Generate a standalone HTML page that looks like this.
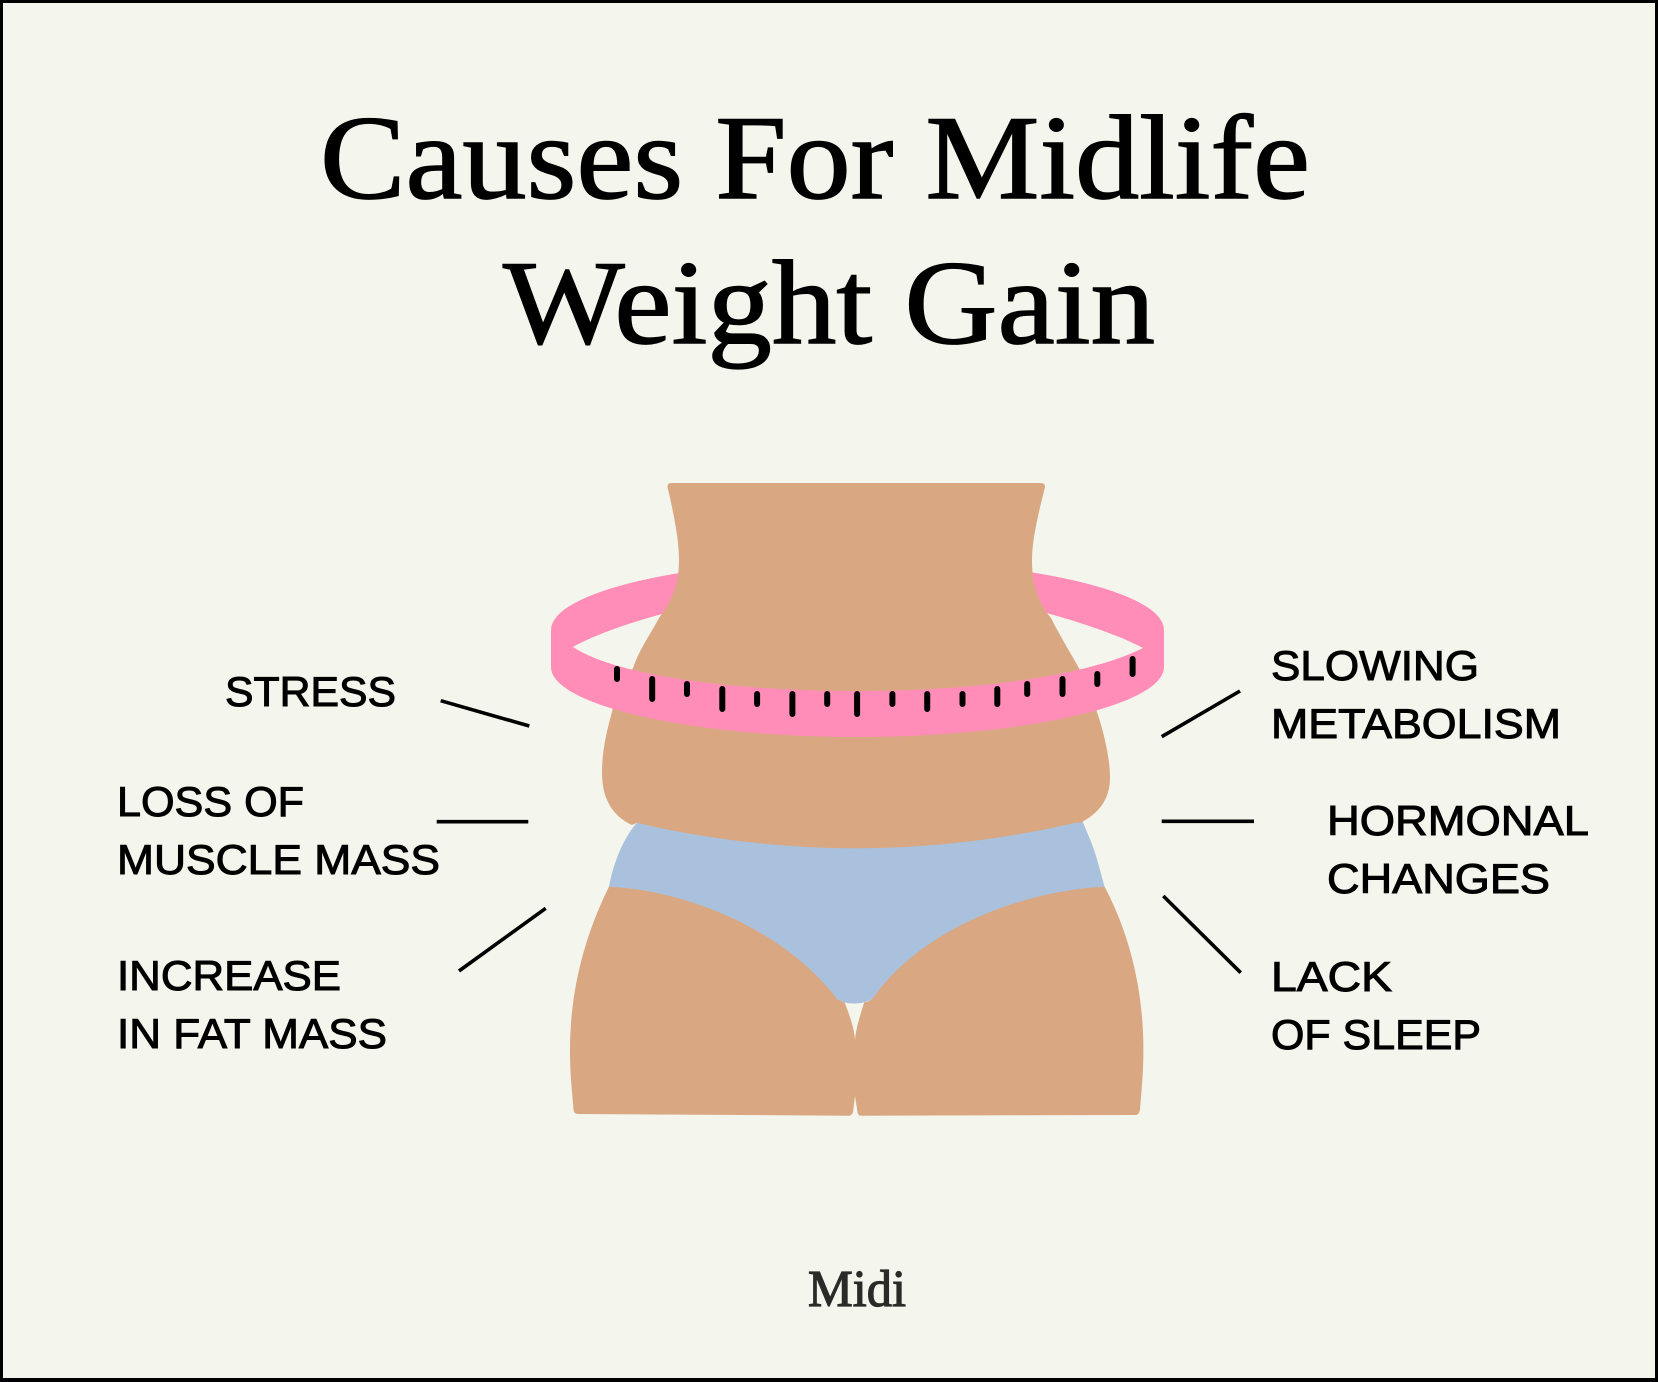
<!DOCTYPE html>
<html><head><meta charset="utf-8"><title>Causes For Midlife Weight Gain</title>
<style>
html,body{margin:0;padding:0;background:#f4f5ec;}
svg{display:block;}
.t{font-family:"Liberation Serif",serif;font-size:120px;fill:#000;stroke:#000;stroke-width:1.4px;}
.l{font-family:"Liberation Sans",sans-serif;font-size:42px;fill:#000;stroke:#000;stroke-width:1px;}
.m{font-family:"Liberation Serif",serif;font-size:52px;fill:#2a2a28;stroke:#2a2a28;stroke-width:1.2px;}
</style></head>
<body>
<svg width="1658" height="1382" viewBox="0 0 1658 1382" xmlns="http://www.w3.org/2000/svg">
<rect x="0" y="0" width="1658" height="1382" fill="#000"/>
<rect x="3" y="3" width="1652" height="1375" fill="#f4f5ec"/>

<text class="t" x="320" y="198" textLength="990" lengthAdjust="spacingAndGlyphs">Causes For Midlife</text>
<text class="t" x="503" y="343" textLength="652" lengthAdjust="spacingAndGlyphs">Weight Gain</text>

<!-- tape back -->
<path fill="#ff8db8" d="M551 630 A306.5 70 0 0 1 1164 630 L1164 660 L1143 648 C1090 620 960 585 857 585 C755 585 620 620 573 647 L551 660 Z"/>

<!-- underwear -->
<path fill="#a9c1dc" d="M632 820 L1082 820 L1091.6 843.3 C1098 860 1101 875 1104.6 886.7 L1106 895 L1000 930 L876 995 C870 1002 862 1003.5 854 1003.5 C846 1003.5 840 1002 835 997 L720 920 L607 895 L609 886.7 C613 865 622 840 636.9 822.7 Z"/>

<!-- legs -->
<path fill="#d9a883" d="M609 886.7 C680 890 780 925 836.6 998.3 C838 1000 842 1002 844.5 1002.3 C850 1016 854 1028 855 1040 C856 1028 860 1016 864.2 1002.3 C868 1002 871 1000 874 996.7 C925 925 1030 890 1104.6 886.7 C1130 935 1143.4 990 1143.4 1050 C1143.4 1075 1141 1095 1140 1110 Q1139 1115 1135 1115 L861 1115.7 Q858 1115.7 857.5 1112 L855 1096 L853 1112 Q852 1115.7 848.4 1115.7 L578 1114 Q574 1114 573.6 1110 C572 1090 570 1075 570 1050 C570 990 585 935 609 886.7 Z"/>

<!-- body -->
<path fill="#d9a883" d="M671 483 L1041 483 Q1045 483 1045 487 C1038 515 1032 540 1032 560 C1032 580 1036 600 1051 618 C1062 640 1072 655 1080 670 C1090 690 1110 740 1110 778 C1110 800 1098 814 1080 823 L1075.8 822.7 C1010 838 935 848.3 856.3 848.3 C780 848.3 700 838 636.9 822.7 L632 825 C612 816 602 798 602 773 C602 745 610 720 613 708 C620 680 626 680 633 668 C640 648 650 635 659 618 C672 600 679 585 679 560 C679 540 674 515 667.5 487 Q667.5 483 671 483 Z"/>

<!-- tape front -->
<path fill="#ff8db8" d="M551 630 L551 667 C551 705 690 737 857 737 C1025 737 1164 705 1164 667 L1164 630 C1164 640 1155 642 1143 648 C1090 675 980 691 857 691 C730 691 615 675 573 647 C565 642 551 636 551 630 Z"/>

<g stroke="#000" stroke-width="6" stroke-linecap="round" fill="none">
<path d="M617 669V679M652.2 679V699M687 684V694M722.3 689V709M757.1 694V704M792.4 694V714M827.2 694V704M857.1 694V714M892.4 694V704M927.2 694V709M962.5 694V704M997.3 689V704M1027.2 684V694M1062.5 679V694M1097.3 674V684M1132.6 659V674"/>
</g>

<g stroke="#000" stroke-width="3.6" fill="none">
<path d="M440.7 700.7L529.3 726"/>
<path d="M436.7 821.7H528.3"/>
<path d="M545.7 908.3L459 971"/>
<path d="M1161.7 736.7L1240 691"/>
<path d="M1161.7 821.3H1254"/>
<path d="M1163.3 896L1240.7 972.7"/>
</g>

<text class="l" x="225" y="706" textLength="171" lengthAdjust="spacingAndGlyphs">STRESS</text>
<text class="l" x="117" y="816" textLength="187" lengthAdjust="spacingAndGlyphs">LOSS OF</text>
<text class="l" x="117" y="874" textLength="323" lengthAdjust="spacingAndGlyphs">MUSCLE MASS</text>
<text class="l" x="117" y="990" textLength="224" lengthAdjust="spacingAndGlyphs">INCREASE</text>
<text class="l" x="117" y="1048" textLength="270" lengthAdjust="spacingAndGlyphs">IN FAT MASS</text>
<text class="l" x="1271" y="680" textLength="208" lengthAdjust="spacingAndGlyphs">SLOWING</text>
<text class="l" x="1271" y="738" textLength="290" lengthAdjust="spacingAndGlyphs">METABOLISM</text>
<text class="l" x="1327" y="835" textLength="262" lengthAdjust="spacingAndGlyphs">HORMONAL</text>
<text class="l" x="1327" y="893" textLength="223" lengthAdjust="spacingAndGlyphs">CHANGES</text>
<text class="l" x="1271" y="991" textLength="121" lengthAdjust="spacingAndGlyphs">LACK</text>
<text class="l" x="1271" y="1049" textLength="210" lengthAdjust="spacingAndGlyphs">OF SLEEP</text>

<text class="m" x="808" y="1306" textLength="98" lengthAdjust="spacingAndGlyphs">Midi</text>
</svg>
</body></html>
